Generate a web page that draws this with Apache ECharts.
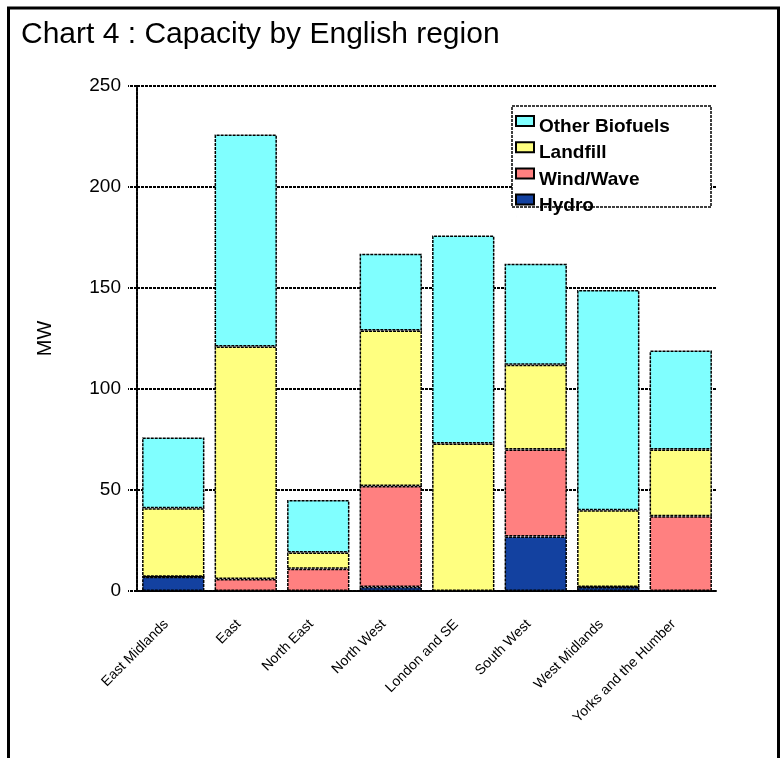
<!DOCTYPE html>
<html>
<head>
<meta charset="utf-8">
<script src="https://cdn.jsdelivr.net/npm/echarts@6/dist/echarts.min.js"></script>
<style>
  html, body { margin: 0; padding: 0; background: #fff; }
  #chart { width: 780px; height: 758px; }
</style>
</head>
<body>
<div id="chart"></div>
<script>
// Regions along the category axis
const regions = ['East Midlands', 'East', 'North East', 'North West', 'London and SE', 'South West', 'West Midlands', 'Yorks and the Humber'];

// Installed capacity (MW) per technology, stacked bottom to top
const hydro    = [7, 0, 0, 2, 0, 27, 2, 0];
const windWave = [0, 6, 11, 50, 0, 43, 0, 37];
const landfill = [34, 115, 8, 77, 73, 42, 38, 33];
const otherBio = [35, 105, 26, 38, 103, 50, 109, 49];

// Value axis ticks
const yTicks = [0, 50, 100, 150, 200, 250];

const FONT = 'Arial, "Liberation Sans", sans-serif';
const dotted = [3, 1];

// Legend swatch: an 18x10 box sitting in the top of an 18x22 frame,
// so the swatch rides slightly above the centre of its label
const swatch = 'path://M0,0H18V10H0Z M0,22L0.01,22';

function seg(name, data, color) {
  return {
    name: name,
    type: 'bar',
    stack: 'capacity',
    data: data,
    barCategoryGap: '14%',
    itemStyle: {
      color: color,
      borderColor: '#000',
      borderWidth: 1.5,
      borderType: dotted
    }
  };
}

const chart = echarts.init(document.getElementById('chart'), null, { renderer: 'canvas' });

chart.setOption({
  backgroundColor: '#fff',
  animation: false,
  title: {
    text: 'Chart 4 : Capacity by English region',
    left: 21,
    top: 20,
    padding: 0,
    textStyle: { fontFamily: FONT, fontSize: 30, fontWeight: 'normal', color: '#000' }
  },
  graphic: [{
    type: 'rect',
    z: 0,
    shape: { x: 8.5, y: 8, width: 770, height: 800 },
    style: { fill: 'none', stroke: '#000', lineWidth: 3 },
    silent: true
  }, {
    // legend frame
    type: 'rect',
    z: 3,
    shape: { x: 512, y: 106, width: 199, height: 101 },
    style: { fill: '#fff', stroke: '#000', lineWidth: 1.5, lineDash: dotted },
    silent: true
  }],
  grid: { left: 137, right: 63, top: 86, bottom: 167 },
  legend: {
    orient: 'vertical',
    left: 515,
    top: 115,
    padding: 0,
    icon: swatch,
    itemWidth: 18,
    itemHeight: 22,
    itemGap: 2.2,
    data: ['Other Biofuels', 'Landfill', 'Wind/Wave', 'Hydro'],
    textStyle: {
      fontFamily: FONT, fontSize: 19, fontWeight: 'bold', color: '#000'
    }
  },
  xAxis: {
    type: 'category',
    data: regions,
    axisLine: { lineStyle: { color: '#000', width: 2, type: dotted } },
    axisTick: { show: false },
    axisLabel: {
      rotate: 45,
      margin: 24,
      interval: 0,
      padding: [0, 10, 0, 0],
      fontFamily: FONT,
      fontSize: 14,
      color: '#000'
    }
  },
  yAxis: {
    type: 'value',
    min: yTicks[0],
    max: yTicks[yTicks.length - 1],
    interval: 50,
    name: 'MW',
    nameLocation: 'middle',
    nameGap: 82,
    nameTextStyle: { fontFamily: FONT, fontSize: 20, color: '#000' },
    axisLine: { show: true, lineStyle: { color: '#000', width: 2, type: dotted } },
    axisTick: { show: true, length: 9, lineStyle: { color: '#000', width: 2, type: dotted } },
    axisLabel: { margin: 16, fontFamily: FONT, fontSize: 19, color: '#000' },
    splitLine: { show: true, lineStyle: { color: '#000', width: 2, type: dotted } }
  },
  series: [
    seg('Hydro', hydro, '#1341A0'),
    seg('Wind/Wave', windWave, '#FF8080'),
    seg('Landfill', landfill, '#FFFF80'),
    seg('Other Biofuels', otherBio, '#80FFFF')
  ]
});
</script>
</body>
</html>
